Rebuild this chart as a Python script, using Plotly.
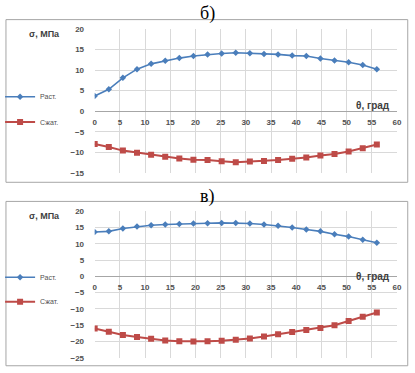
import plotly.graph_objects as go

W, H = 415, 373

theta = [0, 2.8, 5.6, 8.4, 11.2, 14, 16.8, 19.6, 22.4, 25.2, 28, 30.8, 33.6, 36.4, 39.2, 42, 44.8, 47.6, 50.4, 53.2, 56]

top_rast = [3.7, 5.3, 8.1, 10.2, 11.5, 12.25, 12.9, 13.4, 13.75, 14.0, 14.2, 14.1, 13.9, 13.8, 13.5, 13.4, 12.8, 12.3, 11.9, 11.2, 10.2]
top_szhat = [-8.0, -8.7, -9.6, -10.1, -10.6, -11.1, -11.5, -11.8, -11.9, -12.2, -12.4, -12.25, -12.1, -11.9, -11.6, -11.3, -10.8, -10.4, -9.8, -9.0, -8.1]

bot_rast = [13.6, 13.8, 14.7, 15.3, 15.7, 15.9, 16.1, 16.2, 16.3, 16.4, 16.4, 16.2, 15.9, 15.5, 15.0, 14.4, 13.8, 12.9, 12.2, 11.2, 10.3]
bot_szhat = [-16.0, -17.0, -18.0, -18.6, -19.2, -19.7, -19.9, -20.0, -19.9, -19.8, -19.5, -19.1, -18.5, -17.8, -17.1, -16.5, -15.9, -15.0, -13.7, -12.4, -11.1]

series_names = ["Раст.", "Сжат."]
panel_titles = ["б)", "в)"]
y_title = "σ, МПа"
x_title = "θ, град"

top_yrange = [-15, 20]
bot_yrange = [-25, 20]
x_range = [0, 60]

BLUE = "#4A7EBB"
RED = "#BE4B48"
TICK = "#505050"
GRID = "#D9D9D9"


def px(p):
    return p / W


def py(p):
    return 1 - p / H


xdom = [px(92.7), px(401.7)]
top_ydom = [py(173), py(25.5)]
bot_ydom = [py(362.5), py(212.3)]


def zero_pos(dom, rng):
    return dom[0] + (0 - rng[0]) / (rng[1] - rng[0]) * (dom[1] - dom[0])


fig = go.Figure()

panels = [
    (top_rast, top_szhat, "x", "y", "legend", "legend2"),
    (bot_rast, bot_szhat, "x2", "y2", "legend3", "legend4"),
]
for rast, szhat, xa, ya, lg1, lg2 in panels:
    fig.add_trace(go.Scatter(
        x=theta, y=rast, name=series_names[0], xaxis=xa, yaxis=ya, legend=lg1,
        mode="lines+markers", line=dict(color=BLUE, width=1.6),
        marker=dict(symbol="diamond", size=5, color=BLUE)))
    fig.add_trace(go.Scatter(
        x=theta, y=szhat, name=series_names[1], xaxis=xa, yaxis=ya, legend=lg2,
        mode="lines+markers", line=dict(color=RED, width=2),
        marker=dict(symbol="square", size=6, color=RED)))

tickfont = dict(family="Liberation Sans", size=8, color=TICK, weight="bold")

xcommon = dict(range=x_range, dtick=5, showgrid=True, gridcolor=GRID, gridwidth=1,
               zeroline=False, showline=False, tickfont=tickfont,
               ticks="outside", ticklen=3, tickcolor="rgba(0,0,0,0)", fixedrange=True)
ycommon = dict(dtick=5, showgrid=True, gridcolor=GRID, gridwidth=1,
               zeroline=True, zerolinecolor="#A6A6A6", zerolinewidth=1,
               showline=False, tickfont=tickfont,
               ticks="outside", ticklen=8, tickcolor="rgba(0,0,0,0)", fixedrange=True)

fig.update_layout(
    width=W, height=H,
    margin=dict(l=0, r=0, t=0, b=0),
    paper_bgcolor="white", plot_bgcolor="white",
    showlegend=True,
    xaxis=dict(domain=xdom, anchor="free", position=zero_pos(top_ydom, top_yrange), **xcommon),
    yaxis=dict(domain=top_ydom, range=top_yrange, anchor="x", **ycommon),
    xaxis2=dict(domain=xdom, anchor="free", position=zero_pos(bot_ydom, bot_yrange), **xcommon),
    yaxis2=dict(domain=bot_ydom, range=bot_yrange, anchor="x2", **ycommon),
)

legfont = dict(family="Liberation Sans", size=7, color=TICK)
leg_y = {"legend": 95, "legend2": 121, "legend3": 280, "legend4": 305}
for name, ypix in leg_y.items():
    fig.update_layout({name: dict(x=px(-4), y=py(ypix), xanchor="left", yanchor="middle",
                                  font=legfont, bgcolor="rgba(0,0,0,0)", itemwidth=30)})

ann = []
for txt, ypix in zip(panel_titles, [10, 197]):
    ann.append(dict(text=txt, x=px(208), y=py(ypix), xref="paper", yref="paper",
                    xanchor="center", yanchor="middle",
                    showarrow=False, font=dict(family="Liberation Serif", size=18, color="black")))
for ypix in [31, 217]:
    ann.append(dict(text=y_title, x=px(41), y=py(ypix), xref="paper", yref="paper",
                    xanchor="center", yanchor="middle",
                    showarrow=False, font=dict(family="Liberation Sans", size=9, color="#404040", weight="bold")))
for ypix in [104, 279]:
    ann.append(dict(text=x_title, x=px(377), y=py(ypix), xref="paper", yref="paper",
                    xanchor="center", yanchor="middle",
                    showarrow=False, font=dict(family="Liberation Sans", size=10, color="#404040", weight="bold")))
fig.update_layout(annotations=ann)

shapes = []
for y0, y1 in [(16, 182.7), (202.3, 370.7)]:
    shapes.append(dict(type="rect", xref="paper", yref="paper",
                       x0=px(2), x1=px(412.7), y0=py(y1), y1=py(y0),
                       line=dict(color="#A6A6A6", width=1)))
fig.update_layout(shapes=shapes)

fig.write_html("out.html", config={"displayModeBar": False},
               post_script="document.body.style.margin='0';document.body.style.padding='0';")
